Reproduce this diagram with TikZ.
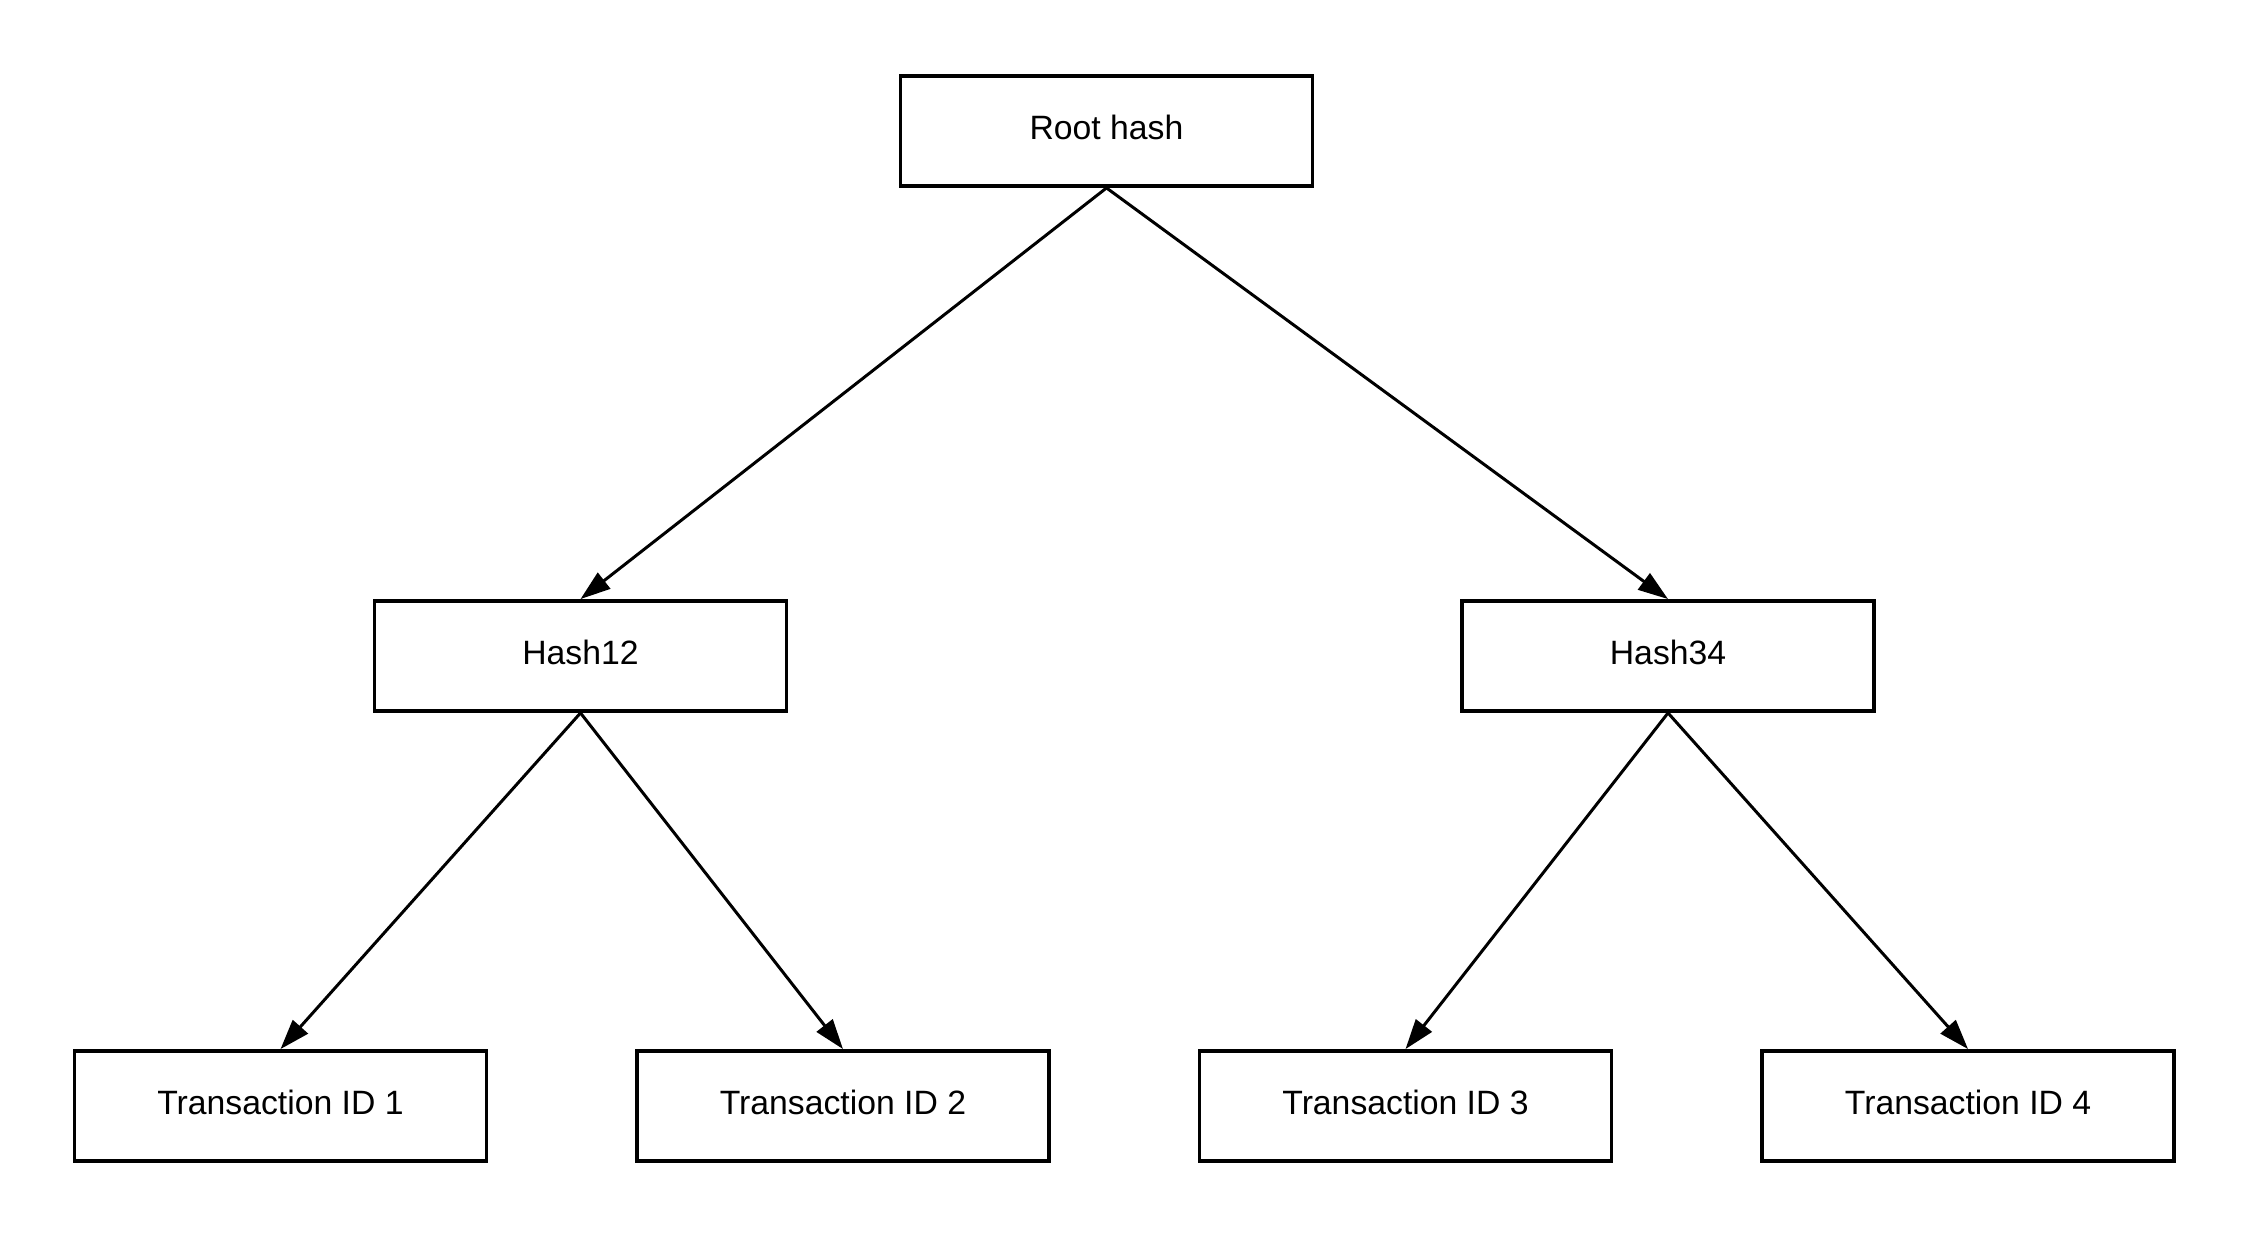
\documentclass[tikz,border=0pt]{standalone}
\usepackage{fontspec}
\setmainfont{Liberation Sans}
\usetikzlibrary{arrows.meta}
\tikzset{arr/.style={draw, -{Triangle[length=3mm,width=2mm]}, line width=0.85pt}}
\tikzset{hashbox/.style={draw, line width=1.1pt, minimum width=4.12cm, minimum height=1.1cm, inner sep=0pt, text height=0.73em, text depth=0.26em, font=\fontsize{9.6pt}{11pt}\selectfont}}

\begin{document}
\begin{tikzpicture}
        \useasboundingbox (0,0) rectangle (22.5,-12.38);
        \node[hashbox] (root) at (11.065,-1.31) {Root hash};
        \node[hashbox] (h12) at (5.805,-6.56) {Hash12};
        \node[hashbox] (h34) at (16.68,-6.56) {Hash34};
        \node[hashbox] (tx1) at (2.805,-11.06) {Transaction ID 1};
        \node[hashbox] (tx2) at (8.43,-11.06) {Transaction ID 2};
        \node[hashbox] (tx3) at (14.055,-11.06) {Transaction ID 3};
        \node[hashbox] (tx4) at (19.68,-11.06) {Transaction ID 4};
        \draw[arr] (root.south) -- (h12.north);
        \draw[arr] (root.south) -- (h34.north);
        \draw[arr] (h12.south) -- (tx1.north);
        \draw[arr] (h12.south) -- (tx2.north);
        \draw[arr] (h34.south) -- (tx3.north);
        \draw[arr] (h34.south) -- (tx4.north);
    \end{tikzpicture}
\end{document}
